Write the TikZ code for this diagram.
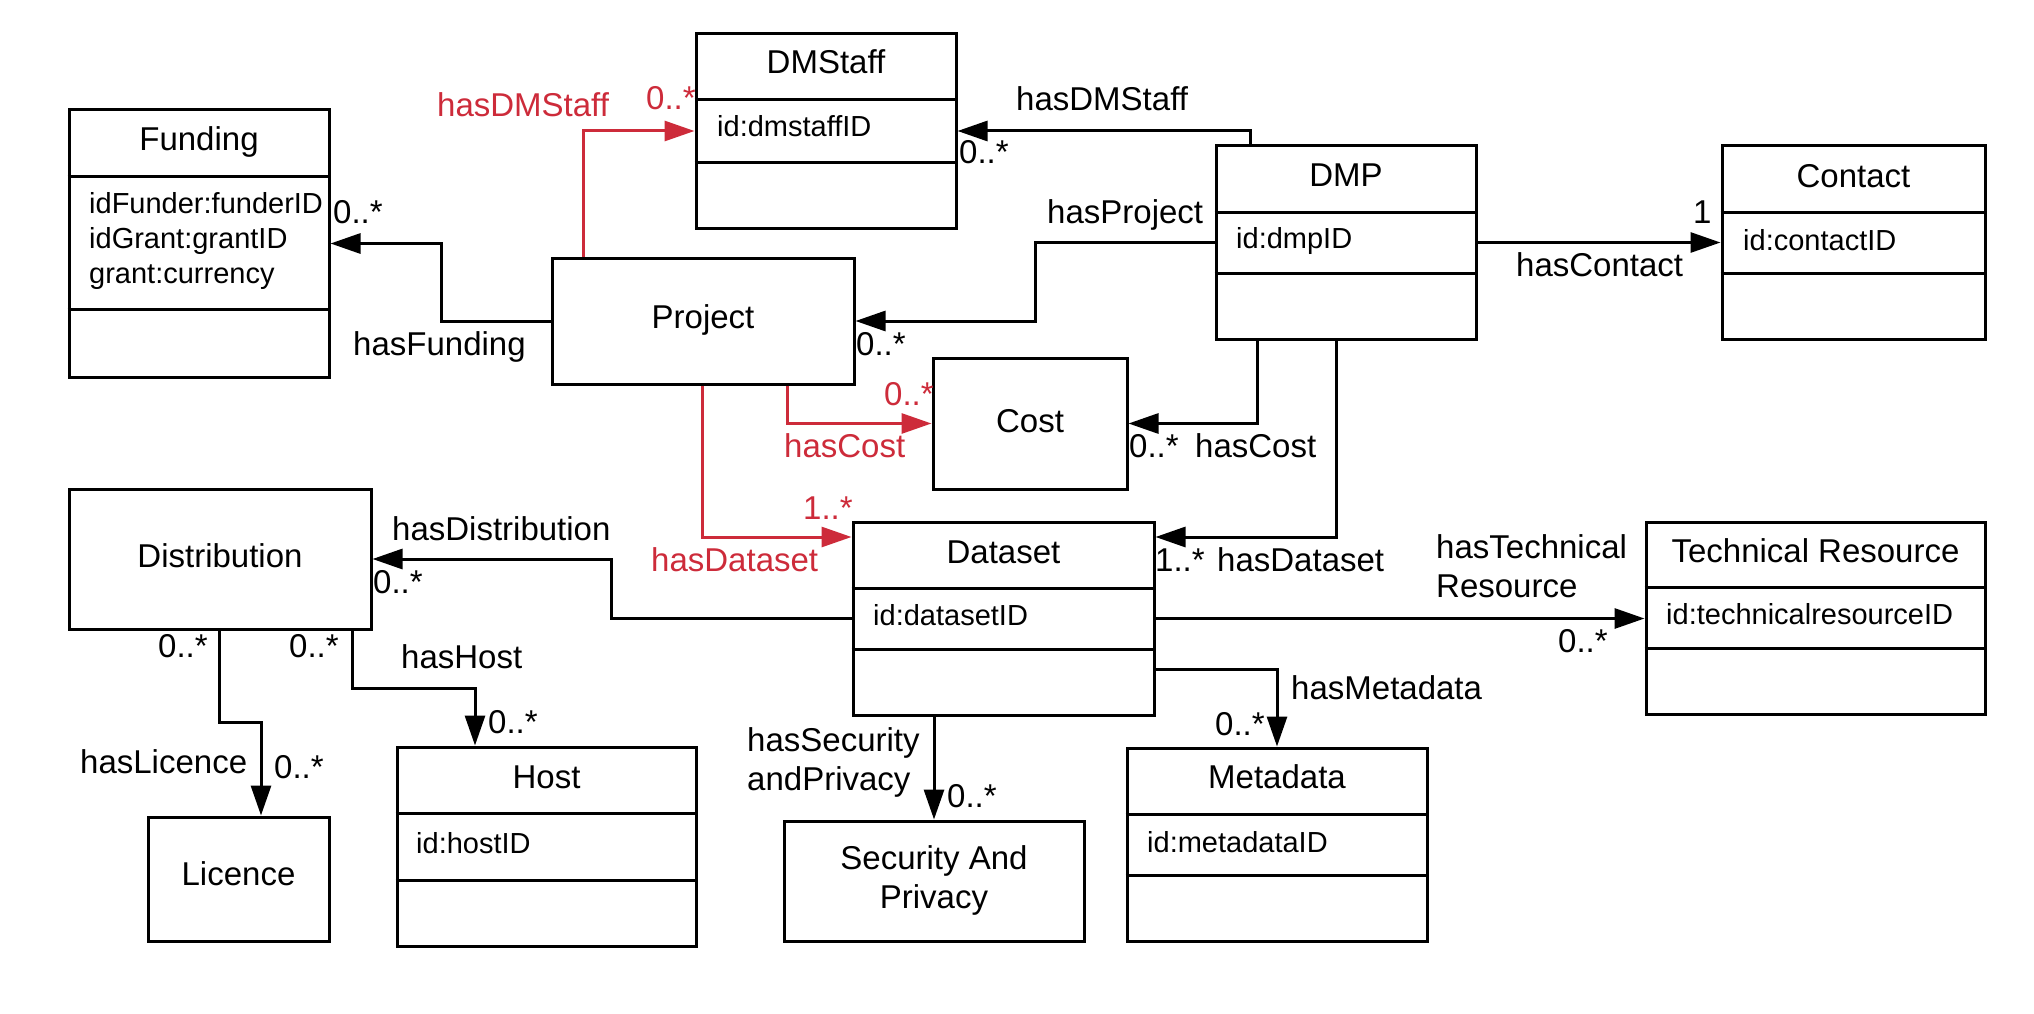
\documentclass[tikz,border=0pt]{standalone}
\usepackage{fontspec}
\setmainfont{Liberation Sans}
\usetikzlibrary{arrows.meta}
\definecolor{relred}{RGB}{205,43,58}
\tikzset{
  cbox/.style={draw, line width=3pt, inner sep=0pt},
  ctitle/.style={anchor=base, inner sep=0pt, font=\fontsize{33}{39}\selectfont},
  cattr/.style={anchor=base west, inner sep=0pt, font=\fontsize{29}{35}\selectfont},
  lbl/.style={anchor=base west, inner sep=0pt, font=\fontsize{33}{39}\selectfont},
  rlbl/.style={lbl, text=relred},
  conn/.style={line width=3pt, -{Triangle[length=30pt,width=20pt]}},
  redconn/.style={conn, draw=relred},
  divider/.style={line width=3pt},
}
\begin{document}
\begin{tikzpicture}[x=1pt,y=-1pt]
\useasboundingbox[fill=white] (0,0) rectangle (2034,1014);

% ---- class boxes ----
\node[cbox, minimum width=260pt, minimum height=267pt] (funding) at (199,243.5) {};
\node[cbox, minimum width=260pt, minimum height=194pt] (dmstaff) at (826,131) {};
\node[cbox, minimum width=260pt, minimum height=193pt] (dmp) at (1346,242.5) {};
\node[cbox, minimum width=263pt, minimum height=193pt] (contact) at (1853.5,242.5) {};
\node[cbox, minimum width=302pt, minimum height=126pt] (project) at (703,321) {};
\node[cbox, minimum width=194pt, minimum height=131pt] (cost) at (1030,423.5) {};
\node[cbox, minimum width=302pt, minimum height=140pt] (distribution) at (220,559) {};
\node[cbox, minimum width=301pt, minimum height=193pt] (dataset) at (1003.5,618.5) {};
\node[cbox, minimum width=339pt, minimum height=192pt] (tr) at (1815.5,618) {};
\node[cbox, minimum width=299pt, minimum height=199pt] (host) at (546.5,846.5) {};
\node[cbox, minimum width=181pt, minimum height=124pt] (licence) at (238.5,879) {};
\node[cbox, minimum width=300pt, minimum height=120pt] (security) at (934,881) {};
\node[cbox, minimum width=300pt, minimum height=193pt] (metadata) at (1277,844.5) {};

% ---- compartment dividers ----
\draw[divider] (funding.west |- 0,176) -- (funding.east |- 0,176);
\draw[divider] (funding.west |- 0,309) -- (funding.east |- 0,309);
\draw[divider] (dmstaff.west |- 0,100) -- (dmstaff.east |- 0,100);
\draw[divider] (dmstaff.west |- 0,162) -- (dmstaff.east |- 0,162);
\draw[divider] (dmp.west |- 0,212) -- (dmp.east |- 0,212);
\draw[divider] (dmp.west |- 0,273) -- (dmp.east |- 0,273);
\draw[divider] (contact.west |- 0,212) -- (contact.east |- 0,212);
\draw[divider] (contact.west |- 0,273) -- (contact.east |- 0,273);
\draw[divider] (dataset.west |- 0,588) -- (dataset.east |- 0,588);
\draw[divider] (dataset.west |- 0,649) -- (dataset.east |- 0,649);
\draw[divider] (tr.west |- 0,587) -- (tr.east |- 0,587);
\draw[divider] (tr.west |- 0,648) -- (tr.east |- 0,648);
\draw[divider] (host.west |- 0,813) -- (host.east |- 0,813);
\draw[divider] (host.west |- 0,880) -- (host.east |- 0,880);
\draw[divider] (metadata.west |- 0,814) -- (metadata.east |- 0,814);
\draw[divider] (metadata.west |- 0,875) -- (metadata.east |- 0,875);

% ---- class titles ----
\node[ctitle] (tFunding) at (199,150) {Funding};
\node[ctitle] (tDMStaff) at (826,74) {DMStaff};
\node[ctitle] (tDMP) at (1346,186) {DMP};
\node[ctitle] (tContact) at (1853.5,187) {Contact};
\node[ctitle] (tProject) at (703,328) {Project};
\node[ctitle] (tCost) at (1030,432) {Cost};
\node[ctitle] (tDistribution) at (220,567) {Distribution};
\node[ctitle] (tDataset) at (1003.5,563) {Dataset};
\node[ctitle] (tTR) at (1815.5,562) {Technical Resource};
\node[ctitle] (tHost) at (546.5,788) {Host};
\node[ctitle] (tLicence) at (238.5,885) {Licence};
\node[ctitle] (tSec1) at (934,869) {Security And};
\node[ctitle] (tSec2) at (934,908) {Privacy};
\node[ctitle] (tMetadata) at (1277,788) {Metadata};

% ---- attributes ----
\node[cattr] (aFund1) at (89,213) {idFunder:funderID};
\node[cattr] (aFund2) at (89,248) {idGrant:grantID};
\node[cattr] (aFund3) at (89,283) {grant:currency};
\node[cattr] (aDMStaff) at (717,137) {id:dmstaffID};
\node[cattr] (aDMP) at (1236,248) {id:dmpID};
\node[cattr] (aContact) at (1743,250) {id:contactID};
\node[cattr] (aDataset) at (873,625) {id:datasetID};
\node[cattr] (aTR) at (1666,624) {id:technicalresourceID};
\node[cattr] (aHost) at (416,853) {id:hostID};
\node[cattr] (aMetadata) at (1147,852) {id:metadataID};

% ---- connectors ----
\draw[conn] (project.west) -- (441,321) -- (441,243.5) -- (funding.east);
\draw[redconn] (project.north -| 583,0) -- (583,131) -- (dmstaff.west);
\draw[conn] (dmp.north -| 1250,0) -- (1250,131) -- (dmstaff.east);
\draw[conn] (dmp.west) -- (1035,242.5) -- (1035,321) -- (project.east);
\draw[conn] (dmp.east) -- (contact.west);
\draw[redconn] (project.south -| 787,0) -- (787,423.5) -- (cost.west);
\draw[redconn] (project.south -| 702,0) -- (702,537) -- (dataset.west |- 0,537);
\draw[conn] (dmp.south -| 1257,0) -- (1257,423.5) -- (cost.east);
\draw[conn] (dmp.south -| 1336,0) -- (1336,537) -- (dataset.east |- 0,537);
\draw[conn] (dataset.west) -- (611,618.5) -- (611,559) -- (distribution.east);
\draw[conn] (distribution.south -| 219,0) -- (219,722) -- (261,722) -- (licence.north -| 261,0);
\draw[conn] (distribution.south -| 352,0) -- (352,688) -- (475,688) -- (host.north -| 475,0);
\draw[conn] (dataset.east) -- (tr.west |- dataset.east);
\draw[conn] (dataset.east |- 0,669) -- (1277,669) -- (metadata.north);
\draw[conn] (dataset.south -| security.north) -- (security.north);

% ---- connector labels ----
\node[lbl] (l1) at (353,355) {hasFunding};
\node[lbl] (l2) at (333,223) {0..*};
\node[rlbl] (l3) at (437,117) {hasDMStaff};
\node[rlbl] (l4) at (646,110) {0..*};
\node[lbl] (l5) at (1016,111) {hasDMStaff};
\node[lbl] (l6) at (959,163) {0..*};
\node[lbl] (l7) at (1047,223) {hasProject};
\node[lbl] (l8) at (856,355) {0..*};
\node[lbl] (l9) at (1516,276) {hasContact};
\node[lbl] (l10) at (1693,223) {1};
\node[rlbl] (l11) at (784,457) {hasCost};
\node[rlbl] (l12) at (884,405) {0..*};
\node[rlbl] (l13) at (651,571) {hasDataset};
\node[rlbl] (l14) at (803,519) {1..*};
\node[lbl] (l15) at (1195,457) {hasCost};
\node[lbl] (l16) at (1129,457) {0..*};
\node[lbl] (l17) at (1217,571) {hasDataset};
\node[lbl] (l18) at (1155,571) {1..*};
\node[lbl] (l19) at (392,540) {hasDistribution};
\node[lbl] (l20) at (373,593) {0..*};
\node[lbl] (l21) at (80,773) {hasLicence};
\node[lbl] (l22) at (158,657) {0..*};
\node[lbl] (l23) at (274,778) {0..*};
\node[lbl] (l24) at (401,668) {hasHost};
\node[lbl] (l25) at (289,657) {0..*};
\node[lbl] (l26) at (488,733) {0..*};
\node[lbl] (l27) at (1436,558) {hasTechnical};
\node[lbl] (l28) at (1436,597) {Resource};
\node[lbl] (l29) at (1558,652) {0..*};
\node[lbl] (l30) at (1291,699) {hasMetadata};
\node[lbl] (l31) at (1215,735) {0..*};
\node[lbl] (l32) at (747,751) {hasSecurity};
\node[lbl] (l33) at (747,790) {andPrivacy};
\node[lbl] (l34) at (947,807) {0..*};
\end{tikzpicture}
\end{document}
